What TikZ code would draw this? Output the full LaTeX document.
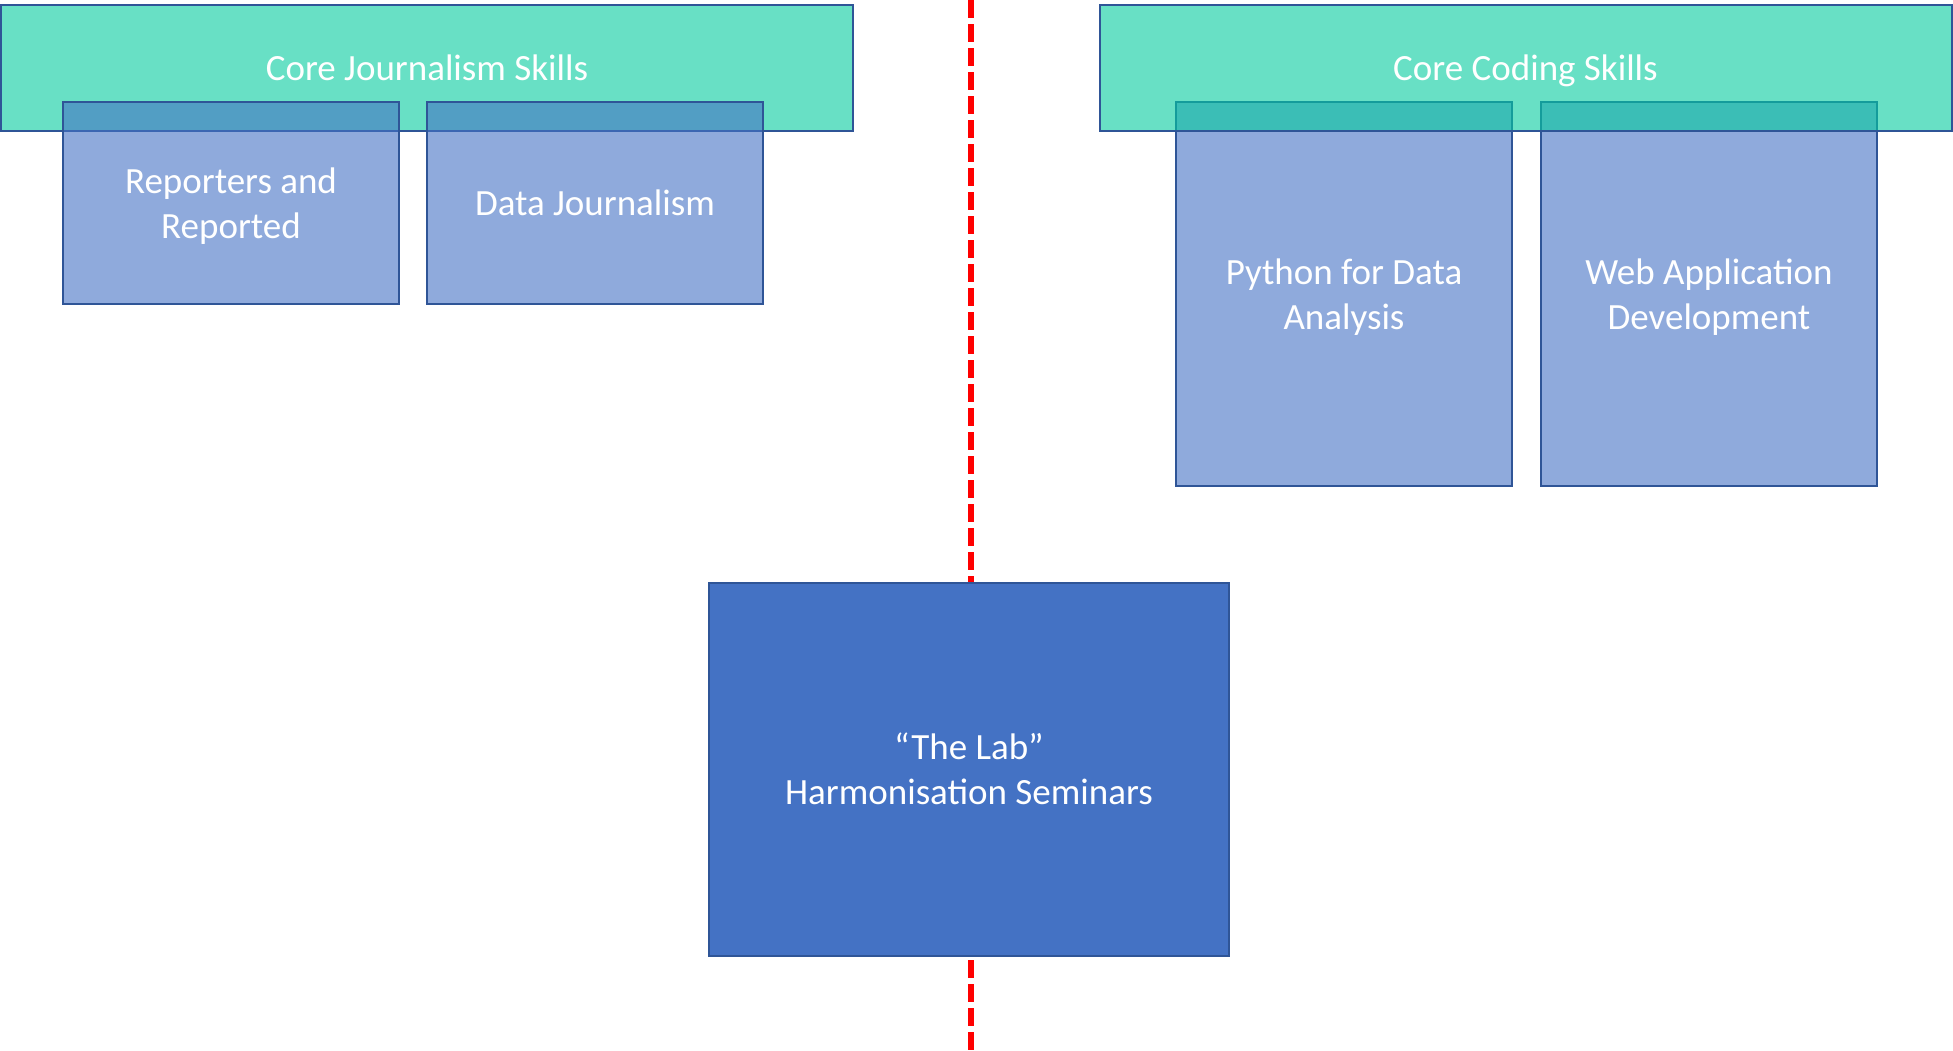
\documentclass[tikz,border=0pt]{standalone}
\usepackage{fontspec}
\setmainfont{Carlito}
\usepackage{tikz}
\usetikzlibrary{positioning}
\definecolor{skillgreen}{RGB}{3,204,158}
\definecolor{courseblue}{RGB}{68,114,196}
\definecolor{edgeblue}{RGB}{47,85,151}
\definecolor{divred}{RGB}{255,0,0}
\newcommand{\linestrut}{\rule[-10pt]{0pt}{45pt}}
\tikzset{
  boxtext/.style={text=white, text opacity=1, align=center, inner sep=0pt, font=\fontsize{37}{45}\selectfont,
    execute at begin node=\linestrut, execute at end node=\linestrut},
  skill/.style={boxtext, draw=edgeblue, line width=2pt, fill=skillgreen, fill opacity=0.6, minimum width=852pt, minimum height=126pt},
  course/.style={boxtext, draw=edgeblue, line width=2pt, fill=courseblue, fill opacity=0.6, minimum width=336pt},
  lab/.style={boxtext, draw=edgeblue, line width=2pt, fill=courseblue, minimum width=520pt, minimum height=373pt}
}

\begin{document}
\begin{tikzpicture}[x=1pt,y=-1pt]
\useasboundingbox (0,0) rectangle (1953,1050);
\coordinate (divtop) at (971,0);
\coordinate (divbot) at (971,1050);
\draw [divred, line width=6pt, dash pattern=on 18pt off 6pt] (divtop) -- (divbot); % split line
% journalism side
\node [skill] (journ) at (427,68) {Core Journalism Skills};
\node [course, minimum height=202pt] (rep) at (231,203) {\linestrut Reporters and\\Reported};
\node [course, minimum height=202pt] (djourn) at (595,203) {Data Journalism};
% coding side, green on top
\node [course, minimum height=384pt] (python) at (1344,294) {\linestrut Python for Data\\Analysis};
\node [course, minimum height=384pt] (webapp) at (1709,294) {\linestrut Web Application\\Development};
\node [skill] (coding) at (1525.5,68) {Core Coding Skills};
\node [lab] (thelab) at (969,769.5) {\linestrut “The Lab”\\Harmonisation Seminars};
\end{tikzpicture}
\end{document}
